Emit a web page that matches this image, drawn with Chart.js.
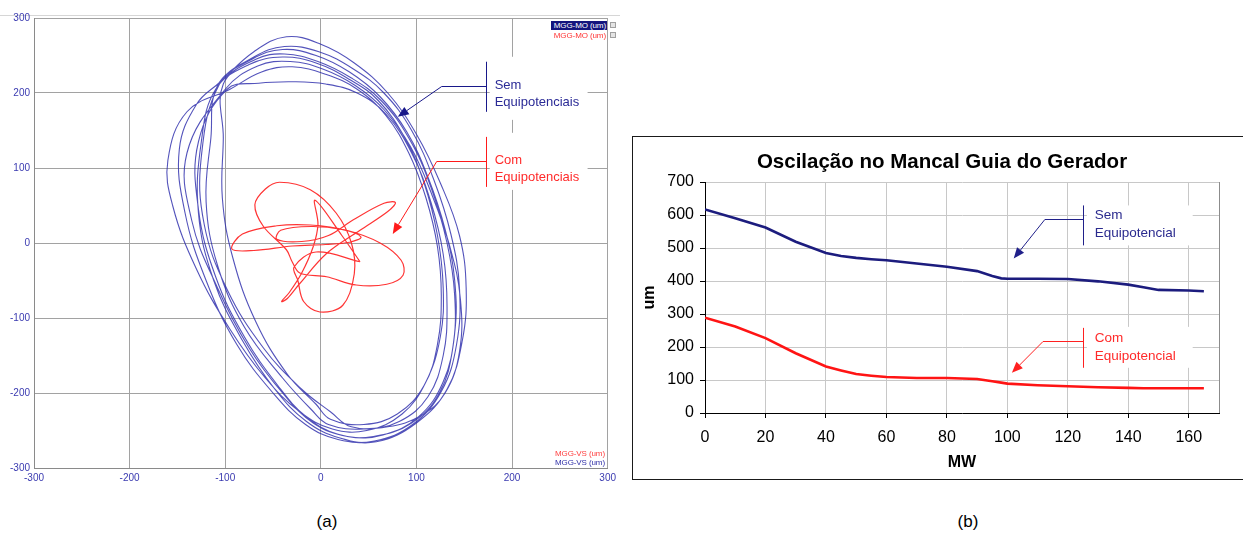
<!DOCTYPE html>
<html>
<head>
<meta charset="utf-8">
<script src="https://cdn.jsdelivr.net/npm/chart.js@4.4.1/dist/chart.umd.min.js"></script>
<style>
  html, body { margin: 0; padding: 0; background: #fff; width: 1243px; height: 534px; overflow: hidden;
    font-family: "Liberation Sans", Arial, sans-serif; }
  #orbit { position: absolute; left: 0; top: 0; }
  #trend { position: absolute; left: 632px; top: 138px; }
  #orbitTopRule { position: absolute; left: 0; top: 15px; width: 620px; height: 0; border-top: 1px solid #d6d6d6; }
  #trendFrame { position: absolute; left: 632px; top: 136px; width: 640px; height: 344px; box-sizing: border-box; border: 1px solid #1a1a1a; }
  .tag { position: absolute; font-size: 8px; line-height: 9px; height: 9px; text-align: right; white-space: nowrap; letter-spacing: -0.1px; }
  .chip { position: absolute; width: 4px; height: 4px; border: 1px solid #a0a0a0; background: #e4e4e4; }
  .caption { position: absolute; top: 522px; font-size: 17px; color: #000; transform: translate(-50%, -50%); }
</style>
</head>
<body>
<div id="orbitTopRule"></div>
<div id="trendFrame"></div>
<canvas id="orbit" width="620" height="490"></canvas>
<canvas id="trend" width="611" height="342"></canvas>

<div class="tag" style="right:636px;top:21px;padding:0 1px 0 3px;background:#14147e;color:#fff;">MGG-MO (um)</div>
<div class="tag" style="right:636px;top:31px;padding-right:1px;color:#ff3434;">MGG-MO (um)</div>
<div class="chip" style="left:610px;top:22px;"></div>
<div class="chip" style="left:610px;top:32px;"></div>
<div class="tag" style="right:638px;top:449px;color:#ff4040;">MGG-VS (um)</div>
<div class="tag" style="right:638px;top:458px;color:#3030a8;">MGG-VS (um)</div>

<div class="caption" style="left:327px;">(a)</div>
<div class="caption" style="left:968px;">(b)</div>

<script>
// ---------- (a) shaft orbit, micrometres ----------
const orbitTicks = [-300, -200, -100, 0, 100, 200, 300];

// without equipotential bonding: eight consecutive turns of the orbit
const semX = [
  -105, -70, -36, 0, 35, 70, 100, 125, 145, 152, 148, 132, 100, 58, 20, -15, -48, -82, -112, -128, -125,
  -110, -75, -40, -5, 30, 60, 88, 108, 122, 128, 125, 110, 85, 48, 12, -22, -58, -95, -130, -155, -160, -140,
  -95, -62, -30, 5, 38, 68, 92, 110, 122, 126, 122, 108, 80, 45, 10, -5, -35, -68, -92, -103, -102,
  -102, -68, -38, -3, 32, 63, 92, 115, 132, 140, 138, 124, 95, 55, 18, -15, -45, -80, -110, -128, -128,
  -98, -65, -30, 5, 38, 68, 95, 115, 128, 132, 128, 112, 82, 45, 8, -10, -40, -80, -108, -120, -115,
  -108, -72, -40, -5, 30, 62, 90, 112, 130, 140, 140, 128, 102, 65, 28, -8, -40, -75, -108, -135, -140,
  -100, -66, -32, 2, 36, 66, 94, 116, 135, 146, 145, 130, 105, 70, 32, 10, -20, -60, -98, -122, -125,
  -106, -70, -38, -2, 34, 66, 95, 118, 136, 145, 142, 126, 96, 56, 18, -16, -50, -88, -120, -142, -148, -130,
  -105
];
const semY = [
  215, 255, 275, 265, 240, 200, 145, 80, 10, -60, -130, -195, -240, -265, -260, -238, -195, -130, -50, 40, 135,
  205, 238, 248, 240, 218, 190, 140, 80, 10, -60, -125, -185, -228, -250, -248, -225, -180, -115, -35, 50, 110, 175,
  205, 228, 235, 225, 205, 170, 120, 60, -5, -70, -135, -190, -228, -242, -235, -215, -175, -105, -20, 60, 140,
  212, 245, 252, 242, 220, 190, 140, 75, 0, -70, -140, -200, -240, -258, -255, -232, -190, -125, -45, 45, 135,
  205, 213, 215, 212, 200, 172, 120, 55, -15, -85, -150, -205, -238, -248, -242, -222, -180, -112, -30, 55, 140,
  210, 245, 258, 250, 228, 195, 148, 88, 18, -50, -120, -185, -232, -256, -258, -240, -200, -140, -60, 30, 120,
  205, 236, 242, 232, 210, 178, 128, 65, -5, -75, -145, -200, -230, -245, -245, -225, -195, -140, -62, 25, 115,
  212, 248, 262, 255, 232, 200, 150, 85, 12, -60, -135, -198, -242, -264, -262, -242, -200, -135, -50, 40, 125, 185,
  215
];

// with equipotential bonding: rosette-shaped orbit
const comX = [
  41, 22, -6, -3, -8, -20, -33, -41, -35, -22, 6, 41, 70, 78, 66, 34, 8, -20, -46, -42, -10, 22, 42, 30, 5, -30, -70,
  -93, -82, -46, -11, 27, 62, 84, 86, 69, 37, 6, -22,
  -30, -36, -60, -69, -58, -43, -11, 16, 32, 35, 23, -1, -18, -24, -28, -5, 41
];
const comY = [
  -25, 10, 57, 25, -5, -40, -66, -78, -74, -54, -14, 17, 42, 54, 53, 31, 10, 2, 5, 17, 22, 18, 8, 1, -2, -4, -10,
  -8, 12, 23, 24, 17, 0, -23, -43, -55, -56, -45, -40,
  -25, -9, 22, 51, 72, 81, 71, 40, 0, -41, -83, -92, -78, -50, -32, -12, -25
];

// ---------- (b) guide bearing oscillation vs. load ----------
const mwLoad = [0, 10, 20, 30, 40, 45, 50, 55, 60, 70, 80, 90, 95, 98, 100, 110, 120, 130, 140, 145, 150, 160, 165];
const semUm  = [617, 590, 562, 519, 485, 476, 470, 466, 463, 453, 443, 430, 415, 408, 407, 407, 406, 399, 389, 381, 373, 371, 369];
const comUm  = [289, 262, 227, 181, 141, 129, 118, 113, 109, 106, 106, 103, 96, 92, 89, 84, 81, 78, 76, 75, 75, 75, 75];

const toPoints = (xs, ys) => xs.map((v, i) => ({ x: v, y: ys[i] }));

Chart.defaults.font.family = '"Liberation Sans", Arial, sans-serif';

// callout boxes with a bracket bar, an elbow leader and a filled arrowhead (positions in data units)
const calloutPlugin = {
  id: 'callouts',
  beforeDatasetsDraw(chart, _args, opts) {
    const { ctx, scales: { x, y } } = chart;
    ctx.save();
    ctx.fillStyle = '#ffffff';
    for (const c of opts.items) {
      const x1 = x.getPixelForValue(c.panelX[0]), x2 = x.getPixelForValue(c.panelX[1]);
      const y1 = y.getPixelForValue(c.panelY[0]), y2 = y.getPixelForValue(c.panelY[1]);
      ctx.fillRect(Math.min(x1, x2), Math.min(y1, y2), Math.abs(x2 - x1), Math.abs(y2 - y1));
    }
    ctx.restore();
  },
  afterDatasetsDraw(chart, _args, opts) {
    const { ctx, scales: { x, y } } = chart;
    for (const c of opts.items) {
      ctx.save();
      ctx.strokeStyle = c.lineColor;
      ctx.fillStyle = c.lineColor;
      ctx.lineWidth = 1;
      const bx = Math.round(x.getPixelForValue(c.barX)) + 0.5;
      ctx.beginPath();
      ctx.moveTo(bx, y.getPixelForValue(c.barY[0]));
      ctx.lineTo(bx, y.getPixelForValue(c.barY[1]));
      ctx.stroke();
      const ey = Math.round(y.getPixelForValue(c.elbow[1])) + 0.5;
      const ex = x.getPixelForValue(c.elbow[0]);
      const tx = x.getPixelForValue(c.tip[0]), ty = y.getPixelForValue(c.tip[1]);
      const ang = Math.atan2(ty - ey, tx - ex);
      const L = 11, W = 4.5;
      const hx = tx - L * Math.cos(ang), hy = ty - L * Math.sin(ang);
      ctx.beginPath();
      ctx.moveTo(bx, ey);
      ctx.lineTo(ex, ey);
      ctx.lineTo(hx, hy);
      ctx.stroke();
      ctx.beginPath();
      ctx.moveTo(tx, ty);
      ctx.lineTo(hx + W * Math.sin(ang), hy - W * Math.cos(ang));
      ctx.lineTo(hx - W * Math.sin(ang), hy + W * Math.cos(ang));
      ctx.closePath();
      ctx.fill();
      ctx.fillStyle = c.textColor;
      ctx.font = opts.font;
      ctx.textAlign = 'left';
      ctx.textBaseline = 'middle';
      const lx = x.getPixelForValue(c.textX);
      c.lines.forEach(([t, v]) => ctx.fillText(t, lx, y.getPixelForValue(v)));
      ctx.restore();
    }
  }
};

// right-hand edge of the plotting area and the heading of the load chart
const trendDecorPlugin = {
  id: 'trendDecor',
  afterDraw(chart, _args, opts) {
    const { ctx, chartArea: a } = chart;
    ctx.save();
    ctx.strokeStyle = '#8c8c8c';
    ctx.lineWidth = 1;
    ctx.beginPath();
    ctx.moveTo(Math.round(a.right) + 0.5, a.top);
    ctx.lineTo(Math.round(a.right) + 0.5, a.bottom);
    ctx.stroke();
    ctx.fillStyle = '#000';
    ctx.font = 'bold 20.5px "Liberation Sans", Arial, sans-serif';
    ctx.textAlign = 'center';
    ctx.textBaseline = 'middle';
    ctx.fillText(opts.text, chart.width / 2 + 4.5, 24.5);
    ctx.restore();
  }
};

const orbitTickFont = { size: 10 };

new Chart(document.getElementById('orbit'), {
  type: 'scatter',
  data: {
    datasets: [
      { label: 'MGG-MO / MGG-VS', data: toPoints(semX, semY), showLine: true, tension: 0.4,
        borderColor: 'rgba(40, 40, 170, 0.8)', borderWidth: 1.1, pointRadius: 0, order: 2 },
      { label: 'MGG-MO / MGG-VS', data: toPoints(comX, comY), showLine: true, tension: 0.35,
        borderColor: 'rgba(255, 35, 35, 0.92)', borderWidth: 1.2, pointRadius: 0, order: 1 }
    ]
  },
  options: {
    responsive: false, animation: false, events: [],
    layout: { padding: { top: 18, right: 12, left: 0, bottom: 0 } },
    plugins: {
      legend: { display: false }, tooltip: { enabled: false },
      callouts: {
        font: '13px "Liberation Sans", Arial, sans-serif',
        items: [
          { lineColor: '#18188a', textColor: '#2a2a96', barX: 172.4, barY: [241.7, 174.9], elbow: [126.4, 209.6], tip: [80.5, 168.2],
            textX: 181.8, lines: [['Sem', 209.6], ['Equipotenciais', 186.9]], panelX: [176.6, 279], panelY: [248.3, 164.2] },
          { lineColor: '#ff1a1a', textColor: '#ff2a2a', barX: 172.4, barY: [141.5, 74.8], elbow: [121.2, 109.5], tip: [75.2, 12.0],
            textX: 181.8, lines: [['Com', 109.5], ['Equipotenciais', 86.8]], panelX: [176.6, 279], panelY: [146.9, 70.8] }
        ]
      }
    },
    scales: {
      x: {
        type: 'linear', min: orbitTicks[0], max: orbitTicks[orbitTicks.length - 1],
        afterBuildTicks: s => { s.ticks = orbitTicks.map(v => ({ value: v })); },
        ticks: { color: '#3a3ab0', font: orbitTickFont, padding: 4, maxRotation: 0 },
        grid: { color: '#a2a2a2', drawTicks: false },
        border: { color: '#8a8a8a' },
        afterFit: s => { s.height = 22; }
      },
      y: {
        type: 'linear', min: orbitTicks[0], max: orbitTicks[orbitTicks.length - 1],
        afterBuildTicks: s => { s.ticks = orbitTicks.map(v => ({ value: v })); },
        ticks: { color: '#3a3ab0', font: orbitTickFont, padding: 4 },
        grid: { color: '#a2a2a2', drawTicks: false },
        border: { color: '#8a8a8a' },
        afterFit: s => { s.width = 34; }
      }
    }
  },
  plugins: [calloutPlugin]
});

new Chart(document.getElementById('trend'), {
  type: 'line',
  data: {
    datasets: [
      { label: 'Sem Equipotencial', data: toPoints(mwLoad, semUm), borderColor: '#1c1c7e', borderWidth: 2.6,
        pointRadius: 0, tension: 0 },
      { label: 'Com Equipotencial', data: toPoints(mwLoad, comUm), borderColor: '#ff1414', borderWidth: 2.6,
        pointRadius: 0, tension: 0 }
    ]
  },
  options: {
    responsive: false, animation: false, events: [],
    layout: { padding: { top: 44, right: 24, left: 0, bottom: 0 } },
    plugins: {
      legend: { display: false }, tooltip: { enabled: false },
      title: { display: false },
      trendDecor: { text: 'Oscilação no Mancal Guia do Gerador' },
      callouts: {
        font: '13.5px "Liberation Sans", Arial, sans-serif',
        items: [
          { lineColor: '#20208a', textColor: '#2a2a8e', barX: 125.1, barY: [629, 508], elbow: [112.4, 589], tip: [102.1, 468],
            textX: 128.9, lines: [['Sem', 599], ['Equipotencial', 545.6]], panelX: [126.3, 161.3], panelY: [629, 508] },
          { lineColor: '#ff2020', textColor: '#ff2a2a', barX: 124.9, barY: [258, 137], elbow: [111.8, 219], tip: [101.5, 121.8],
            textX: 128.9, lines: [['Com', 227.5], ['Equipotencial', 173]], panelX: [126.3, 161.3], panelY: [261, 137] }
        ]
      }
    },
    scales: {
      x: {
        type: 'linear', min: 0, max: 170,
        ticks: { stepSize: 20, includeBounds: false, color: '#000', font: { size: 16 }, padding: 10, maxRotation: 0 },
        grid: { color: '#c8c8c8', tickColor: '#000', tickLength: 5 },
        border: { color: '#000' },
        title: { display: true, text: 'MW', color: '#000', font: { size: 16, weight: 'bold' }, padding: { top: 0, bottom: 8 } },
        afterFit: s => { s.height = 67; }
      },
      y: {
        type: 'linear', min: 0, max: 700,
        ticks: { stepSize: 100, color: '#000', font: { size: 16 }, padding: 6 },
        grid: { color: '#c8c8c8', tickColor: '#000', tickLength: 5 },
        border: { color: '#000' },
        title: { display: true, text: 'um', color: '#000', font: { size: 16, weight: 'bold' }, padding: { top: 8, bottom: 0 } },
        afterFit: s => { s.width = 73; }
      }
    }
  },
  plugins: [calloutPlugin, trendDecorPlugin]
});
</script>
</body>
</html>
